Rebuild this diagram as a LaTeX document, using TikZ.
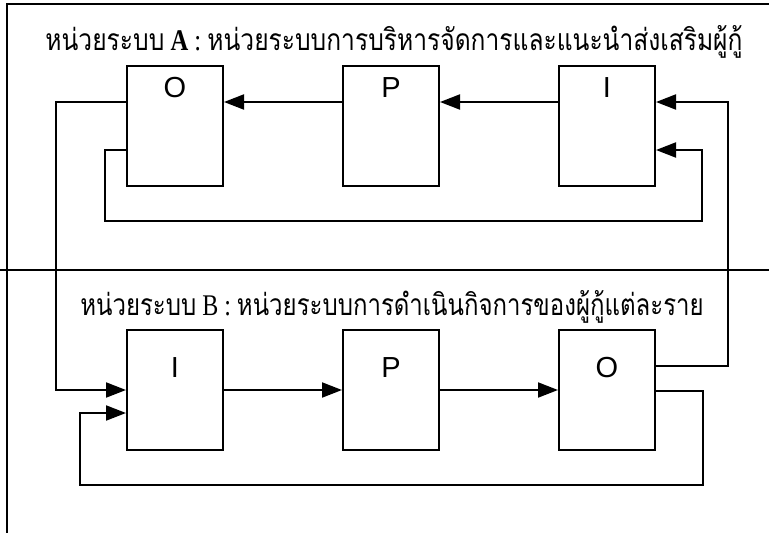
\documentclass[tikz,border=0pt]{standalone}
\usepackage{fontspec}
\setmainfont{Liberation Serif}
\setsansfont{Liberation Sans}
\newfontfamily\thaifont[Script=Thai]{Loma}
\usetikzlibrary{arrows.meta}
\tikzset{
  box/.style={draw, line width=2pt, minimum width=96pt, minimum height=120pt, inner sep=0pt},
  lbl/.style={font=\sffamily\fontsize{29}{29}\selectfont, anchor=center, inner sep=0pt},
  wire/.style={line width=2pt},
  arr/.style={line width=2pt, -{Triangle[length=20pt,width=15pt]}},
  frame/.style={line width=2pt},
  ttl/.style={font=\fontsize{30}{30}\selectfont, anchor=base, inner sep=0pt}
}
\begin{document}
\begin{tikzpicture}[x=1pt,y=-1pt]
\useasboundingbox (0,0) rectangle (769,533);
% frame
\draw[frame] (769,4) -- (7,4) -- (7,533);
\draw[frame] (0,270) -- (769,270);
% titles
\node[ttl] (tA) at (394,50) {\scalebox{0.82}[1]{{\thaifont หน่วยระบบ} {\bfseries A} : {\thaifont หน่วยระบบการบริหารจัดการและแนะนำส่งเสริมผู้กู้}}};
\node[ttl] (tB) at (392,315) {\scalebox{0.80}[1]{{\thaifont หน่วยระบบ} B : {\thaifont หน่วยระบบการดำเนินกิจการของผู้กู้แต่ละราย}}};
% boxes
\node[box, label={[lbl,yshift=-23pt]north:O}] (AO) at (175,126) {};
\node[box, label={[lbl,yshift=-23pt]north:P}] (AP) at (391,126) {};
\node[box, label={[lbl,yshift=-23pt]north:I}] (AI) at (607,126) {};
\node[box, label={[lbl,yshift=-39pt]north:I}] (BI) at (175,390) {};
\node[box, label={[lbl,yshift=-39pt]north:P}] (BP) at (391,390) {};
\node[box, label={[lbl,yshift=-39pt]north:O}] (BO) at (607,390) {};
% level coordinates
\coordinate (yA1) at (0,102);
\coordinate (yA2) at (0,150);
\coordinate (yB1) at (0,390);
\coordinate (yB2) at (0,413);
\coordinate (yB3) at (0,366);
\coordinate (yB4) at (0,391);
\coordinate (cL1) at (56,0);
\coordinate (cL2) at (105,221);
\coordinate (cR2) at (702,221);
\coordinate (cR1) at (728,0);
\coordinate (cR3) at (703,485);
\coordinate (cL3) at (80,485);
% row A
\draw[arr] (AI.west |- yA1) -- (AP.east |- yA1);
\draw[arr] (AP.west |- yA1) -- (AO.east |- yA1);
% row B
\draw[arr] (BI.east |- yB1) -- (BP.west |- yB1);
\draw[arr] (BP.east |- yB1) -- (BO.west |- yB1);
% A.O -> B.I
\draw[arr] (AO.west |- yA1) -- (cL1 |- yA1) -- (cL1 |- yB1) -- (BI.west |- yB1);
% A.O -> A.I feedback
\draw[arr] (AO.west |- yA2) -- (cL2 |- yA2) -- (cL2) -- (cR2) -- (cR2 |- yA2) -- (AI.east |- yA2);
% B.O -> A.I
\draw[arr] (BO.east |- yB3) -- (cR1 |- yB3) -- (cR1 |- yA1) -- (AI.east |- yA1);
% B.O -> B.I feedback
\draw[arr] (BO.east |- yB4) -- (cR3 |- yB4) -- (cR3) -- (cL3) -- (cL3 |- yB2) -- (BI.west |- yB2);
\end{tikzpicture}
\end{document}
